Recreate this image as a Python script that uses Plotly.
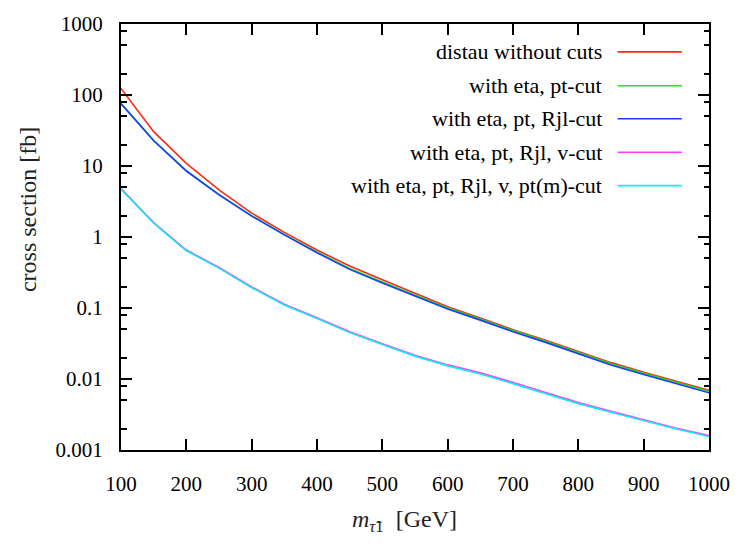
import plotly.graph_objects as go

# stau pair production cross sections vs. stau mass, for successive cut sets
mass = [100, 150, 200, 250, 300, 350, 400, 450, 500, 550,
        600, 650, 700, 750, 800, 850, 900, 950, 1000]

sigma_nocuts = [124, 30.5, 10.9, 4.6, 2.17, 1.16, 0.655, 0.39, 0.25, 0.162,
                0.104, 0.072, 0.0495, 0.035, 0.0242, 0.017, 0.0124, 0.0093, 0.0069]
sigma_eta_pt = [76.5, 23.0, 8.6, 3.98, 2.0, 1.09, 0.615, 0.36, 0.232, 0.153,
                0.100, 0.070, 0.048, 0.034, 0.0234, 0.0164, 0.0120, 0.0090, 0.00673]
sigma_rjl = [75.5, 22.7, 8.5, 3.93, 1.97, 1.07, 0.60, 0.35, 0.225, 0.148,
             0.097, 0.0675, 0.0463, 0.0328, 0.0226, 0.0158, 0.0116, 0.0087, 0.0064]
sigma_v = [4.8, 1.6, 0.655, 0.372, 0.198, 0.113, 0.073, 0.0463, 0.0314, 0.0216,
           0.0158, 0.0122, 0.0089, 0.0064, 0.00465, 0.0035, 0.00268, 0.00203, 0.0016]
sigma_ptm = [4.7, 1.57, 0.64, 0.365, 0.193, 0.110, 0.071, 0.045, 0.0305, 0.021,
             0.0153, 0.0118, 0.0086, 0.0062, 0.0045, 0.0034, 0.0026, 0.00197, 0.00155]

series_names = [
    "distau without cuts",
    "with eta, pt-cut",
    "with eta, pt, Rjl-cut",
    "with eta, pt, Rjl, v-cut",
    "with eta, pt, Rjl, v, pt(m)-cut",
]
series_values = [sigma_nocuts, sigma_eta_pt, sigma_rjl, sigma_v, sigma_ptm]
series_colors = ["#ff2a14", "#1ee01e", "#1a3cff", "#ff3cff", "#14eaea"]

y_major = [0.001, 0.01, 0.1, 1, 10, 100, 1000]
y_major_text = ["0.001", "0.01", "0.1", "1", "10", "100", "1000"]
y_minor = [m * 10.0 ** k for k in range(-3, 3) for m in (2, 5, 8)]

W, H = 742, 549
L, R, T, B = 121, 26, 17, 99
PW, PH = W - L - R, H - T - B


def fx(px):
    return (px - L) / PW


def fy(py):
    return (H - B - py) / PH


FONT = "Liberation Serif, Times New Roman, serif"

fig = go.Figure()
for name, vals, col in zip(series_names, series_values, series_colors):
    fig.add_trace(go.Scatter(x=mass, y=vals, mode="lines", name=name,
                             line=dict(color=col, width=1.6), showlegend=False))

# key: right-aligned labels followed by line samples
annotations = []
shapes = []
row_y = [45.3, 79.7, 113.3, 147.3, 181.3]
for name, col, ry in zip(series_names, series_colors, row_y):
    annotations.append(dict(text=name, xref="paper", yref="paper",
                            x=fx(610), y=fy(ry), xanchor="right", yanchor="middle",
                            showarrow=False, font=dict(family=FONT, size=22, color="black")))
    shapes.append(dict(type="line", xref="paper", yref="paper",
                       x0=fx(623.5), x1=fx(688.5), y0=fy(ry), y1=fy(ry),
                       line=dict(color=col, width=1.6)))

annotations.append(dict(text="cross section [fb]", xref="paper", yref="paper",
                        x=fx(27), y=fy(206), xanchor="center", yanchor="middle",
                        textangle=-90, showarrow=False,
                        font=dict(family=FONT, size=24, color="#222")))
annotations.append(dict(text="<i>m</i><sub><i>τ̃</i>1</sub>  [GeV]", xref="paper", yref="paper",
                        x=fx(408), y=fy(522), xanchor="center", yanchor="middle",
                        showarrow=False,
                        font=dict(family=FONT, size=24, color="#222")))

fig.update_layout(
    width=W, height=H,
    margin=dict(l=L, r=R, t=T, b=B, pad=0),
    paper_bgcolor="white", plot_bgcolor="white",
    font=dict(family=FONT, size=21, color="black"),
    annotations=annotations, shapes=shapes,
    showlegend=False,
)

fig.update_xaxes(
    range=[100, 1000], tickmode="array", tickvals=list(range(100, 1001, 100)),
    ticks="inside", ticklen=11, tickwidth=1.5, tickcolor="black",
    showline=True, linewidth=2, linecolor="black", mirror="allticks",
    showgrid=False, zeroline=False, ticklabelstandoff=14,
    tickfont=dict(family=FONT, size=21, color="black"),
)
fig.update_yaxes(
    type="log", range=[-3, 3], tickmode="array", tickvals=y_major, ticktext=y_major_text,
    ticks="inside", ticklen=11, tickwidth=1.5, tickcolor="black",
    showline=True, linewidth=2, linecolor="black", mirror="allticks",
    showgrid=False, zeroline=False, ticklabelstandoff=12,
    tickfont=dict(family=FONT, size=21, color="black"),
    minor=dict(tickmode="array", tickvals=y_minor, ticks="inside", ticklen=5.5,
               tickwidth=1.5, tickcolor="black", showgrid=False),
)

fig.write_html("out.html")
